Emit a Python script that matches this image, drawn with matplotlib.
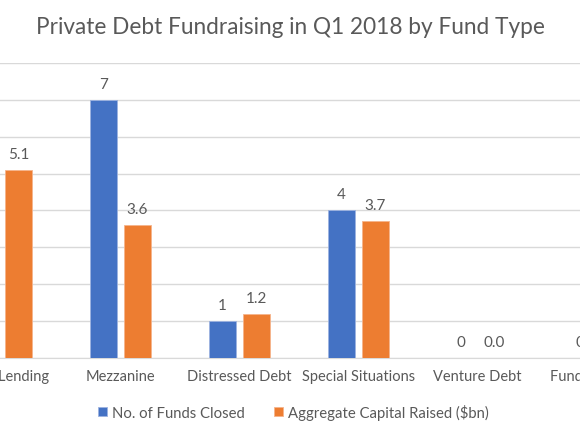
import numpy as np
import matplotlib.pyplot as plt

plt.rcParams['font.family'] = ['Lato', 'DejaVu Sans']

fund_types = ["Direct Lending", "Mezzanine", "Distressed Debt",
              "Special Situations", "Venture Debt", "Fund of Funds"]
funds_closed = [5, 7, 1, 4, 0, 0]
capital_raised = [5.1, 3.6, 1.2, 3.7, 0.0, 0.0]

BLUE = "#4472c4"
ORANGE = "#ed7d31"
GREY = "#595959"

fig = plt.figure(figsize=(5.8, 4.35), dpi=100)
# plot area runs off the right side of the picture (cropped chart),
# 119 px per category, first category at x = 1.5 px
x0 = -1.5 / 119
x1 = 5.6
ax = fig.add_axes([0, 0.1747, (x1 - x0) * 119 / 580, 0.6786])

x = np.arange(len(fund_types))
w = 0.227
off = 0.143
b1 = ax.bar(x - off, funds_closed, w, color=BLUE, edgecolor="#9db3e0", linewidth=0.6,
            label="No. of Funds Closed", zorder=3)
b2 = ax.bar(x + off, capital_raised, w, color=ORANGE, edgecolor="#f5b48c", linewidth=0.6,
            label="Aggregate Capital Raised ($bn)", zorder=3)

ax.bar_label(b1, labels=[str(v) for v in funds_closed], padding=6.5,
             fontsize=11, color=GREY)
ax.bar_label(b2, labels=["%.1f" % v for v in capital_raised], padding=6.5,
             fontsize=11, color=GREY)

ax.set_xticks(x)
ax.set_xticklabels(fund_types)
ax.set_xlim(x0, x1)
ax.set_yticks(np.arange(0, 9, 1))
ax.set_ylim(0, 8)
ax.yaxis.grid(True, color="#d9d9d9", linewidth=1, zorder=0)
ax.set_axisbelow(True)
ax.tick_params(axis="y", left=False, labelleft=False)
ax.tick_params(axis="x", length=0, pad=8, labelsize=10.5, labelcolor=GREY)
for s in ["top", "left", "right"]:
    ax.spines[s].set_visible(False)
ax.spines["bottom"].set_color("#d9d9d9")

fig.text(0.5, (435 - 34) / 435, "Private Debt Fundraising in Q1 2018 by Fund Type",
         ha="center", va="baseline", fontsize=16.3, color=GREY)
fig.legend(loc="center", bbox_to_anchor=(0.506, 0.051), ncol=2, frameon=False,
           fontsize=10.7, labelcolor=GREY, handlelength=0.6, handleheight=0.6,
           handletextpad=0.35, columnspacing=2.0)

fig.savefig("out.png", dpi=100)
